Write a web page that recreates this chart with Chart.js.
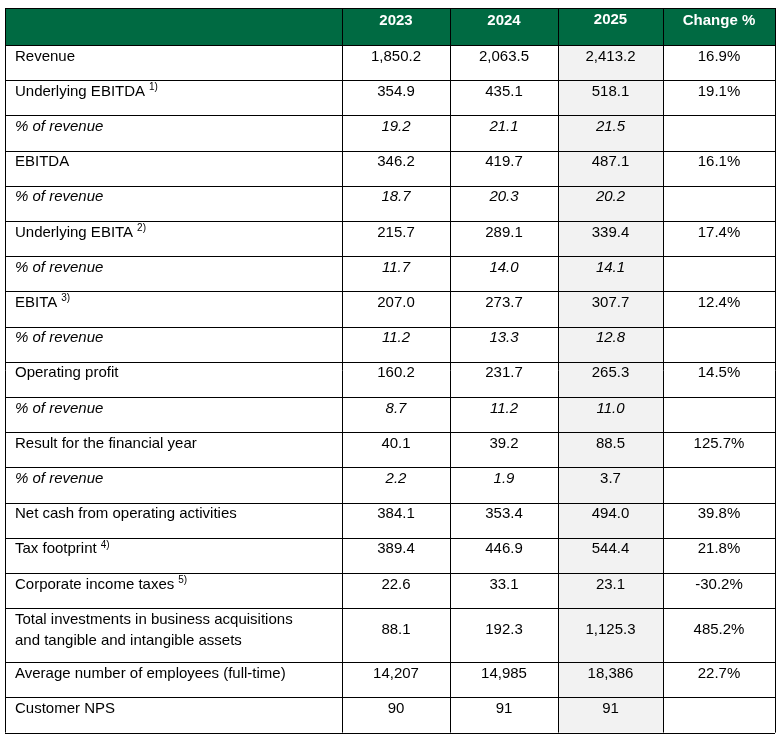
<!DOCTYPE html>
<html><head><meta charset="utf-8">
<script src="https://cdn.jsdelivr.net/npm/chart.js@4/dist/chart.umd.min.js"></script>
<style>html,body{margin:0;padding:0;background:#fff}</style>
</head><body>
<canvas id="c" width="781" height="742"></canvas>
<script>
const headers = ["", "2023", "2024", "2025", "Change %"];
const labels = ["Revenue","Underlying EBITDA","% of revenue","EBITDA","% of revenue","Underlying EBITA","% of revenue","EBITA","% of revenue","Operating profit","% of revenue","Result for the financial year","% of revenue","Net cash from operating activities","Tax footprint","Corporate income taxes","Total investments in business acquisitions\nand tangible and intangible assets","Average number of employees (full-time)","Customer NPS"];
const notes = ["","1)","","","","2)","","3)","","","","","","","4)","5)","","",""];
const v2023 = ["1,850.2","354.9","19.2","346.2","18.7","215.7","11.7","207.0","11.2","160.2","8.7","40.1","2.2","384.1","389.4","22.6","88.1","14,207","90"];
const v2024 = ["2,063.5","435.1","21.1","419.7","20.3","289.1","14.0","273.7","13.3","231.7","11.2","39.2","1.9","353.4","446.9","33.1","192.3","14,985","91"];
const v2025 = ["2,413.2","518.1","21.5","487.1","20.2","339.4","14.1","307.7","12.8","265.3","11.0","88.5","3.7","494.0","544.4","23.1","1,125.3","18,386","91"];
const change = ["16.9%","19.1%","","16.1%","","17.4%","","12.4%","","14.5%","","125.7%","","39.8%","21.8%","-30.2%","485.2%","22.7%",""];
const italicRows = [2,4,6,8,10,12];
const italicValRows = [2,4,6,8,10,12];

const tablePlugin = {
  id: 'table',
  afterDraw(chart) {
    const ctx = chart.ctx;
    const cols = [5, 342, 450, 558, 663, 775];
    const headTop = 8, headBot = 45;
    const rowH = 35.2, dblH = 54;
    ctx.save();
    // row positions
    const tops = []; let y = headBot;
    labels.forEach((l, i) => { tops.push(y); y += l.includes("\n") ? dblH : rowH; });
    const bottom = y;
    // header
    ctx.fillStyle = "#006a42";
    ctx.fillRect(cols[0], headTop, cols[5]-cols[0], headBot-headTop);
    // gray column
    ctx.fillStyle = "#f2f2f2";
    ctx.fillRect(cols[3], headBot, cols[4]-cols[3], bottom-headBot);
    // grid
    ctx.strokeStyle = "#000"; ctx.lineWidth = 1;
    ctx.beginPath();
    cols.forEach(x => { ctx.moveTo(Math.round(x)+0.5, headTop); ctx.lineTo(Math.round(x)+0.5, bottom); });
    [headTop, ...tops, bottom].forEach(t => { ctx.moveTo(cols[0], Math.round(t)+0.5); ctx.lineTo(cols[5], Math.round(t)+0.5); });
    ctx.stroke();
    // header text
    ctx.fillStyle = "#fff"; ctx.font = "bold 15px 'Liberation Sans', Arial"; ctx.textAlign = "center"; ctx.textBaseline = "middle";
    headers.forEach((h, i) => { if (h) ctx.fillText(h, (cols[i]+cols[i+1])/2, i===3?20:21); });
    // body
    ctx.fillStyle = "#000";
    labels.forEach((l, i) => {
      const t = tops[i];
      const dbl = l.includes("\n");
      const it = italicRows.includes(i);
      ctx.font = (it ? "italic " : "") + "15px 'Liberation Sans', Arial";
      ctx.textAlign = "left";
      if (dbl) {
        const parts = l.split("\n");
        ctx.fillText(parts[0], 15, t + 11.5);
        ctx.fillText(parts[1], 15, t + 32.5);
      } else {
        ctx.fillText(l, 15, t + 11.5);
        if (notes[i]) {
          const w = ctx.measureText(l).width;
          ctx.font = "10px 'Liberation Sans', Arial";
          ctx.fillText(notes[i], 15 + w + 4, t + 7);
        }
      }
      const vy = dbl ? t + 22 : t + 11.5;
      ctx.textAlign = "center";
      const vi = italicValRows.includes(i);
      const vals = [v2023[i], v2024[i], v2025[i], change[i]];
      vals.forEach((v, k) => {
        const ital = vi && !(i === 12 && k === 2);
        ctx.font = (ital ? "italic " : "") + "15px 'Liberation Sans', Arial";
        ctx.fillText(v, (cols[k+1]+cols[k+2])/2, vy);
      });
    });
    ctx.restore();
  }
};

new Chart(document.getElementById('c'), {
  type: 'bar',
  data: { labels: [], datasets: [] },
  options: {
    responsive: false, animation: false, devicePixelRatio: 1,
    layout: { padding: 0 },
    plugins: { legend: { display: false }, tooltip: { enabled: false } },
    scales: { x: { display: false }, y: { display: false } }
  },
  plugins: [tablePlugin]
});
</script>
</body></html>
